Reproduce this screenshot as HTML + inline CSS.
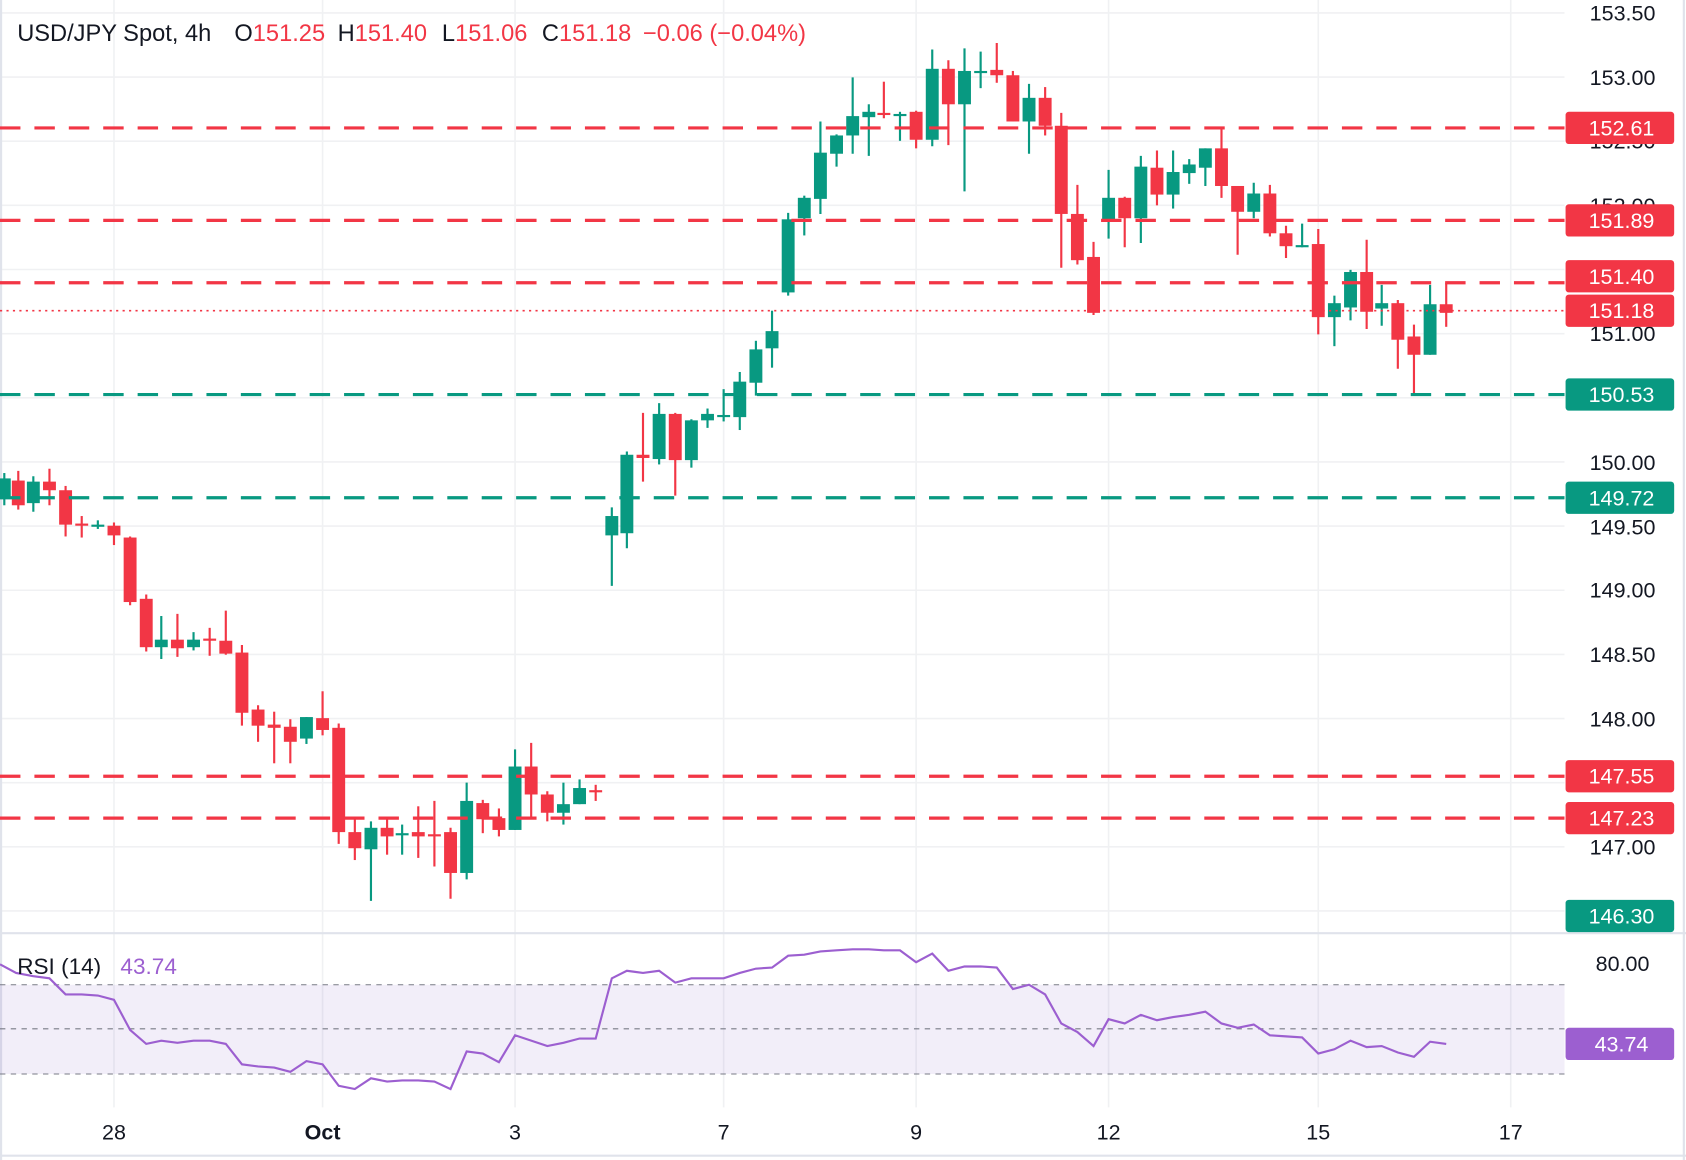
<!DOCTYPE html>
<html><head><meta charset="utf-8"><style>
html,body{margin:0;padding:0;background:#fff;overflow:hidden}
svg{display:block}
text{font-family:"Liberation Sans",sans-serif}
</style></head><body>
<svg id="s" width="1686" height="1160" viewBox="0 0 1568 1079" preserveAspectRatio="none" xmlns="http://www.w3.org/2000/svg">
<rect width="1568" height="1079" fill="#fff"/>
<g id="grid" stroke="#f0f1f3" stroke-width="1.5"></g>
<g id="cand"></g>
<g id="lines"></g>
<g id="rsi"></g>
<g id="axis"></g>
<text x="16" y="38" font-size="22" fill="#131722">USD/JPY Spot, 4h<tspan x="218">O</tspan><tspan fill="#f23645">151.25</tspan><tspan x="314">H</tspan><tspan fill="#f23645">151.40</tspan><tspan x="411">L</tspan><tspan fill="#f23645">151.06</tspan><tspan x="504">C</tspan><tspan fill="#f23645">151.18</tspan><tspan x="598" fill="#f23645">−0.06 (−0.04%)</tspan></text>
<text x="16" y="906" font-size="21" fill="#131722">RSI (14)<tspan x="112" fill="#9c5fd0">43.74</tspan></text>
</svg>
<script>
var NS="http://www.w3.org/2000/svg";
function el(p,t,a,txt){var e=document.createElementNS(NS,t);for(var k in a)e.setAttribute(k,a[k]);if(txt!==undefined)e.textContent=txt;document.getElementById(p).appendChild(e);return e;}
for(var i=0;i<15;i++){var y=12+i*59.67;el('grid','line',{x1:0,x2:1455,y1:y,y2:y});}
[106,300,479,673,852,1031,1226,1405].forEach(function(x){el('grid','line',{x1:x,x2:x,y1:0,y2:1030});});
el('grid','line',{x1:0,x2:1568,y1:868,y2:868,stroke:'#e0e3eb','stroke-width':2});
el('grid','line',{x1:0,x2:1568,y1:1075,y2:1075,stroke:'#e0e3eb','stroke-width':2});
el('grid','line',{x1:1,x2:1,y1:0,y2:1079,stroke:'#e0e3eb','stroke-width':2});
el('grid','line',{x1:1566,x2:1566,y1:0,y2:1079,stroke:'#e0e3eb','stroke-width':2});
var C=[[4,462,445,440,470],[17,447,470,438,474],[31,468,448,443,476],[46,448,456,436,470],[61,456,488,452,499],[76,487,488,480,500],[91,489,488,484,492],[106,489,498,486,507],[121,500,560,499,563],[136,557,602,553,606],[150,602,595,573,613],[165,595,603,571,611],[180,602,595,588,605],[195,594,595,584,610],[210,596,608,568,609],[225,607,663,600,675],[240,660,675,656,690],[255,674,677,662,710],[270,676,690,669,710],[285,687,667,667,692],[300,668,679,643,684],[315,677,774,673,785],[330,774,789,761,800],[345,790,770,764,838],[360,770,778,760,795],[374,776,775,767,795],[389,774,778,750,798],[404,776,777,745,806],[419,774,812,770,836],[434,812,745,728,818],[449,747,762,744,775],[464,761,772,752,778],[479,772,713,697,772],[494,713,739,691,762],[509,739,756,736,764],[524,756,748,728,767],[539,748,733,725,748],[554,735,736,730,745],[569,498,480,472,545],[583,496,423,420,510],[598,423,426,384,448],[613,427,385,375,432],[628,385,428,384,461],[643,428,391,390,435],[658,391,385,380,398],[673,387,386,362,392],[688,388,355,346,400],[703,356,325,317,368],[718,324,308,289,342],[733,272,204,198,275],[748,203,184,182,219],[763,185,142,113,199],[778,143,126,125,155],[793,126,108,72,143],[808,109,104,97,145],[822,105,106,76,110],[837,107,106,104,131],[852,104,130,103,138],[867,130,64,46,136],[882,64,97,56,135],[897,97,66,45,178],[912,67,66,48,82],[927,65,70,40,77],[942,70,113,66,113],[957,113,91,78,143],[972,91,117,81,126],[987,117,199,105,249],[1002,199,242,172,246],[1017,239,291,225,293],[1031,206,184,158,222],[1046,184,203,183,230],[1061,203,155,145,226],[1076,156,181,140,191],[1091,181,160,140,194],[1106,161,153,148,171],[1121,156,138,138,173],[1136,138,173,118,184],[1151,173,197,173,237],[1166,197,180,170,203],[1181,180,217,172,220],[1196,217,229,210,240],[1211,229,228,208,230],[1226,227,295,213,311],[1241,295,282,275,322],[1256,286,253,251,298],[1271,253,290,223,306],[1285,287,282,265,303],[1300,282,316,279,343],[1315,313,330,302,367],[1330,330,283,265,330],[1345,283,291,263,304]];
C.forEach(function(c){var col=(c[2]<c[1])?'#089981':'#f23645';
el('cand','line',{x1:c[0],x2:c[0],y1:c[3],y2:c[4],stroke:col,'stroke-width':2});
var t=Math.min(c[1],c[2]),h=Math.max(Math.abs(c[2]-c[1]),2);
el('cand','rect',{x:c[0]-6,y:t,width:12,height:h,fill:col});});
var R='#f23645',G='#089981';
[[119,R],[205,R],[263,R],[722,R],[761,R],[367,G],[463,G]].forEach(function(l){el('lines','line',{x1:0,x2:1455,y1:l[0],y2:l[0],stroke:l[1],'stroke-width':3,'stroke-dasharray':'19 13'});});
el('lines','line',{x1:0,x2:1455,y1:289,y2:289,stroke:R,'stroke-width':1.5,'stroke-dasharray':'2 4'});
var P=[[12,'153.50'],[72,'153.00'],[131,'152.50'],[191,'152.00'],[310,'151.00'],[430,'150.00'],[490,'149.50'],[549,'149.00'],[609,'148.50'],[669,'148.00'],[788,'147.00'],[896,'80.00']];
P.forEach(function(p){el('axis','text',{x:1509,y:p[0]+7,'font-size':20,fill:'#131722','text-anchor':'middle'},p[1]);});
[[119,'152.61',R],[205,'151.89',R],[257,'151.40',R],[289,'151.18',R],[367,'150.53',G],[463,'149.72',G],[722,'147.55',R],[761,'147.23',R],[852,'146.30',G],[971,'43.74','#9c5fd0']].forEach(function(b){
el('axis','rect',{x:1456,y:b[0]-15,width:101,height:30,rx:3,fill:b[2]});
el('axis','text',{x:1508,y:b[0]+7,'font-size':20,fill:'#fff','text-anchor':'middle'},b[1]);});
[[106,'28'],[300,'Oct'],[479,'3'],[673,'7'],[852,'9'],[1031,'12'],[1226,'15'],[1405,'17']].forEach(function(d){
el('axis','text',{x:d[0],y:1060,'font-size':20,fill:'#131722','text-anchor':'middle','font-weight':d[1]=='Oct'?'bold':'normal'},d[1]);});
el('rsi','rect',{x:0,y:916,width:1455,height:83,fill:'#7e57c2','fill-opacity':0.1});
[916,957,999].forEach(function(y){el('rsi','line',{x1:0,x2:1455,y1:y,y2:y,stroke:'#787b86','stroke-width':1,'stroke-dasharray':'5 5'});});
var Rp=[[0,897],[15,905],[31,908],[46,910],[61,925],[76,925],[91,926],[106,930],[121,958],[136,971],[150,968],[165,970],[180,968],[195,968],[210,971],[225,990],[240,992],[255,993],[270,997],[285,987],[300,990],[315,1010],[330,1013],[345,1003],[360,1006],[374,1005],[389,1005],[404,1006],[419,1013],[434,978],[449,980],[464,988],[479,963],[494,968],[509,973],[524,970],[539,966],[554,966],[569,910],[583,903],[598,905],[613,903],[628,914],[643,910],[658,910],[673,910],[688,905],[703,901],[718,900],[733,889],[748,888],[763,885],[778,884],[793,883],[808,883],[822,884],[837,884],[852,895],[867,887],[882,903],[897,899],[912,899],[927,900],[942,920],[957,916],[972,925],[987,952],[1002,960],[1017,973],[1031,948],[1046,952],[1061,944],[1076,949],[1091,946],[1106,944],[1121,941],[1136,952],[1151,956],[1166,953],[1181,963],[1196,964],[1211,965],[1226,980],[1241,976],[1256,968],[1271,974],[1285,973],[1300,979],[1315,983],[1330,969],[1345,971]];
el('rsi','polyline',{points:Rp.map(function(p){return p.join(',')}).join(' '),fill:'none',stroke:'#9c5fd0','stroke-width':2});
</script>
</body></html>
